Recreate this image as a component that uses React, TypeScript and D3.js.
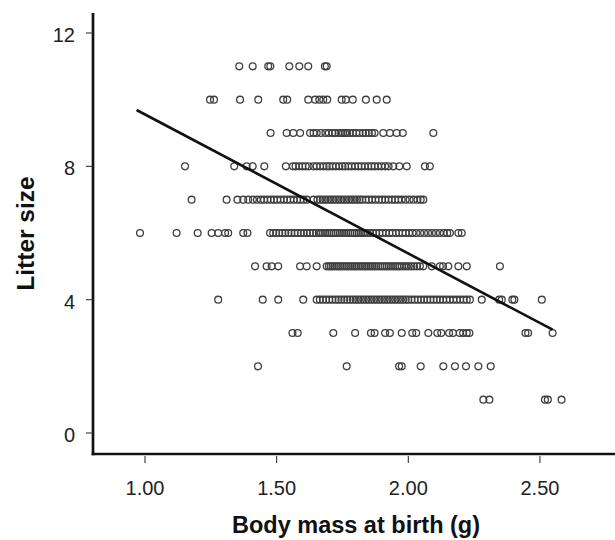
import React from "react";
import * as d3 from "d3";

// Body mass at birth (g) for each litter size (rows of the scatter)
const mass11 = [1.358, 1.409, 1.468, 1.476, 1.548, 1.586, 1.62, 1.683, 1.69];
const mass10 = [1.247, 1.262, 1.361, 1.43, 1.525, 1.54, 1.62, 1.646, 1.662, 1.677, 1.692, 1.747, 1.763, 1.789, 1.839, 1.88, 1.918];
const mass9 = [1.477, 1.538, 1.563, 1.589, 1.627, 1.64, 1.652, 1.668, 1.685, 1.698, 1.712, 1.722, 1.735, 1.745, 1.752, 1.76, 1.768, 1.778, 1.79, 1.802, 1.815, 1.828, 1.838, 1.85, 1.862, 1.872, 1.905, 1.93, 1.956, 1.979, 2.095];
const mass8 = [1.152, 1.339, 1.386, 1.409, 1.453, 1.535, 1.562, 1.572, 1.585, 1.598, 1.61, 1.622, 1.64, 1.652, 1.665, 1.678, 1.69, 1.7, 1.712, 1.725, 1.738, 1.75, 1.76, 1.772, 1.785, 1.798, 1.81, 1.822, 1.835, 1.848, 1.86, 1.872, 1.885, 1.898, 1.912, 1.925, 1.943, 1.966, 1.994, 2.063, 2.082];
const mass7 = [1.177, 1.31, 1.351, 1.373, 1.392, 1.41, 1.425, 1.44, 1.452, 1.465, 1.478, 1.49, 1.502, 1.515, 1.528, 1.54, 1.552, 1.565, 1.578, 1.59, 1.602, 1.615, 1.64, 1.655, 1.665, 1.675, 1.685, 1.695, 1.705, 1.715, 1.725, 1.735, 1.745, 1.755, 1.765, 1.775, 1.785, 1.795, 1.805, 1.815, 1.825, 1.838, 1.85, 1.862, 1.875, 1.888, 1.9, 1.912, 1.925, 1.938, 1.95, 1.962, 1.975, 1.99, 2.005, 2.02, 2.035, 2.047, 2.057];
const mass6 = [0.981, 1.12, 1.2, 1.253, 1.278, 1.304, 1.316, 1.373, 1.389, 1.475, 1.487, 1.498, 1.51, 1.522, 1.533, 1.545, 1.556, 1.568, 1.58, 1.592, 1.603, 1.615, 1.626, 1.638, 1.65, 1.66, 1.668, 1.676, 1.684, 1.692, 1.7, 1.708, 1.716, 1.724, 1.732, 1.74, 1.748, 1.756, 1.764, 1.772, 1.78, 1.788, 1.796, 1.804, 1.812, 1.82, 1.828, 1.836, 1.845, 1.855, 1.866, 1.878, 1.89, 1.902, 1.915, 1.928, 1.94, 1.953, 1.965, 1.978, 1.99, 2.003, 2.016, 2.03, 2.045, 2.06, 2.075, 2.09, 2.105, 2.12, 2.135, 2.148, 2.158, 2.19, 2.203];
const mass5 = [1.418, 1.462, 1.481, 1.506, 1.589, 1.614, 1.652, 1.69, 1.698, 1.705, 1.712, 1.72, 1.728, 1.735, 1.742, 1.75, 1.757, 1.765, 1.772, 1.78, 1.787, 1.795, 1.802, 1.81, 1.818, 1.825, 1.833, 1.84, 1.848, 1.856, 1.863, 1.871, 1.878, 1.886, 1.894, 1.902, 1.91, 1.918, 1.926, 1.934, 1.942, 1.95, 1.958, 1.966, 1.975, 1.984, 1.993, 2.002, 2.012, 2.022, 2.033, 2.044, 2.057, 2.089, 2.12, 2.132, 2.152, 2.19, 2.222, 2.348];
const mass4 = [1.278, 1.447, 1.506, 1.601, 1.652, 1.664, 1.676, 1.688, 1.7, 1.712, 1.724, 1.735, 1.746, 1.757, 1.768, 1.779, 1.79, 1.8, 1.81, 1.82, 1.83, 1.84, 1.85, 1.86, 1.87, 1.88, 1.89, 1.9, 1.91, 1.92, 1.93, 1.94, 1.95, 1.96, 1.97, 1.98, 1.99, 2.0, 2.012, 2.024, 2.036, 2.048, 2.06, 2.072, 2.084, 2.096, 2.108, 2.12, 2.132, 2.145, 2.158, 2.171, 2.184, 2.197, 2.21, 2.222, 2.234, 2.279, 2.345, 2.355, 2.395, 2.403, 2.507];
const mass3 = [1.56, 1.58, 1.715, 1.798, 1.858, 1.872, 1.912, 1.93, 1.975, 2.015, 2.03, 2.076, 2.11, 2.125, 2.155, 2.17, 2.195, 2.208, 2.222, 2.232, 2.445, 2.455, 2.548];
const mass2 = [1.429, 1.766, 1.965, 1.975, 2.047, 2.133, 2.177, 2.219, 2.266, 2.313];
const mass1 = [2.285, 2.308, 2.519, 2.53, 2.582];

const rows: [number, number[]][] = [
  [11, mass11], [10, mass10], [9, mass9], [8, mass8], [7, mass7], [6, mass6],
  [5, mass5], [4, mass4], [3, mass3], [2, mass2], [1, mass1],
];

// Fitted regression line endpoints
const fitMass = [0.968, 2.548];
const fitLitter = [9.69, 3.1];

const xTicks = [1.0, 1.5, 2.0, 2.5];
const yTicks = [0, 4, 8, 12];

const W = 615;
const H = 540;
const M = { left: 93, right: 0, top: 13, bottom: 86 };
const FONT = "'Liberation Sans', Arial, Helvetica, sans-serif";

export default function App() {
  const x = d3.scaleLinear().domain([0.8025, 2.785]).range([M.left, W - M.right]);
  const y = d3.scaleLinear().domain([-0.63, 12.6]).range([H - M.bottom, M.top]);
  const points = rows.flatMap(([ls, arr]) => arr.map((m) => ({ m, ls })));
  const line = d3.line<number>().x((d, i) => x(fitMass[i])).y((d, i) => y(fitLitter[i]));
  const fmt = d3.format(".2f");
  const x0 = M.left;
  const yb = H - M.bottom;

  return (
    <svg width={W} height={H} style={{ position: "absolute", left: 0, top: 0, background: "#fff" }}>
      <rect width={W} height={H} fill="#fff" />
      {/* points */}
      <g fill="none" stroke="#404040" strokeWidth={1.3}>
        {points.map((p, i) => (
          <circle key={i} cx={x(p.m)} cy={y(p.ls)} r={3.4} />
        ))}
      </g>
      {/* regression line */}
      <path d={line(fitMass) || ""} fill="none" stroke="#111" strokeWidth={2.6} />
      {/* axes */}
      <line x1={x0} x2={x0} y1={M.top} y2={yb + 1.3} stroke="#111" strokeWidth={2.7} />
      <line x1={x0 - 1.3} x2={W} y1={yb} y2={yb} stroke="#111" strokeWidth={2.7} />
      {/* y ticks */}
      {yTicks.map((t) => (
        <g key={"y" + t}>
          <line x1={x0 - 7} x2={x0} y1={y(t)} y2={y(t)} stroke="#333" strokeWidth={1.1} />
          <text x={x0 - 18} y={y(t) + 2} textAnchor="end" dominantBaseline="central" fontFamily={FONT} fontSize={20} fill="#222">
            {t}
          </text>
        </g>
      ))}
      {/* x ticks */}
      {xTicks.map((t) => (
        <g key={"x" + t}>
          <line x1={x(t)} x2={x(t)} y1={yb + 2} y2={yb + 9} stroke="#333" strokeWidth={1.1} />
          <text x={x(t)} y={495} textAnchor="middle" fontFamily={FONT} fontSize={20} fill="#222">
            {fmt(t)}
          </text>
        </g>
      ))}
      {/* titles */}
      <text x={(M.left + W) / 2 + 2} y={533} textAnchor="middle" fontFamily={FONT} fontSize={23.5} fontWeight="bold" fill="#111">
        Body mass at birth (g)
      </text>
      <text
        transform={`translate(34, ${(M.top + yb) / 2}) rotate(-90)`}
        textAnchor="middle"
        fontFamily={FONT}
        fontSize={24.5}
        fontWeight="bold"
        fill="#111"
      >
        Litter size
      </text>
    </svg>
  );
}
